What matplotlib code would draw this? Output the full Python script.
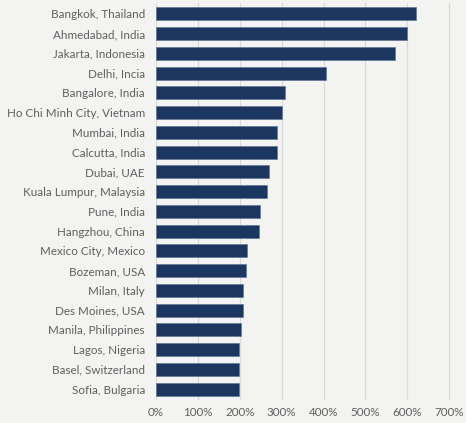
import matplotlib.pyplot as plt
from matplotlib.ticker import FuncFormatter

# citta e crescita percentuale
cities = [
    "Bangkok, Thailand", "Ahmedabad, India", "Jakarta, Indonesia", "Delhi, Incia",
    "Bangalore, India", "Ho Chi Minh City, Vietnam", "Mumbai, India", "Calcutta, India",
    "Dubai, UAE", "Kuala Lumpur, Malaysia", "Pune, India", "Hangzhou, China",
    "Mexico City, Mexico", "Bozeman, USA", "Milan, Italy", "Des Moines, USA",
    "Manila, Philippines", "Lagos, Nigeria", "Basel, Switzerland", "Sofia, Bulgaria",
]
growth = [621, 600, 571, 405, 307, 300, 288, 288, 271, 265,
          248, 246, 217, 214, 207, 207, 204, 199, 199, 199]
xticks = [0, 100, 200, 300, 400, 500, 600, 700]

bg = "#f3f3f1"
navy = "#1b365f"
grey_txt = "#5f5f5f"

plt.rcParams['font.family'] = ['Lato', 'DejaVu Sans']

fig = plt.figure(figsize=(4.66, 4.23), dpi=100, facecolor=bg)
ax = fig.add_axes([156 / 466, 1 - 400 / 423, (455 - 156) / 466, 397 / 423])
ax.set_facecolor(bg)

y = list(range(len(cities)))
ax.barh(y, growth, height=0.65, color=navy, edgecolor="#5a7090", linewidth=0.4, zorder=3)

ax.set_ylim(len(cities) - 0.45, -0.55)
ax.set_xlim(0, 714)
ax.set_xticks(xticks)
ax.xaxis.set_major_formatter(FuncFormatter(lambda v, p: f"{int(v)}%"))
ax.set_yticks(y)
ax.set_yticklabels(cities)

ax.grid(axis="x", color="#dadada", linewidth=0.9, zorder=0)
for s in ax.spines.values():
    s.set_visible(False)
ax.tick_params(axis="both", length=0, colors=grey_txt, labelsize=8.4)
ax.tick_params(axis="y", pad=8)
ax.tick_params(axis="x", pad=5)

fig.savefig("out.png", dpi=100, facecolor=bg)
